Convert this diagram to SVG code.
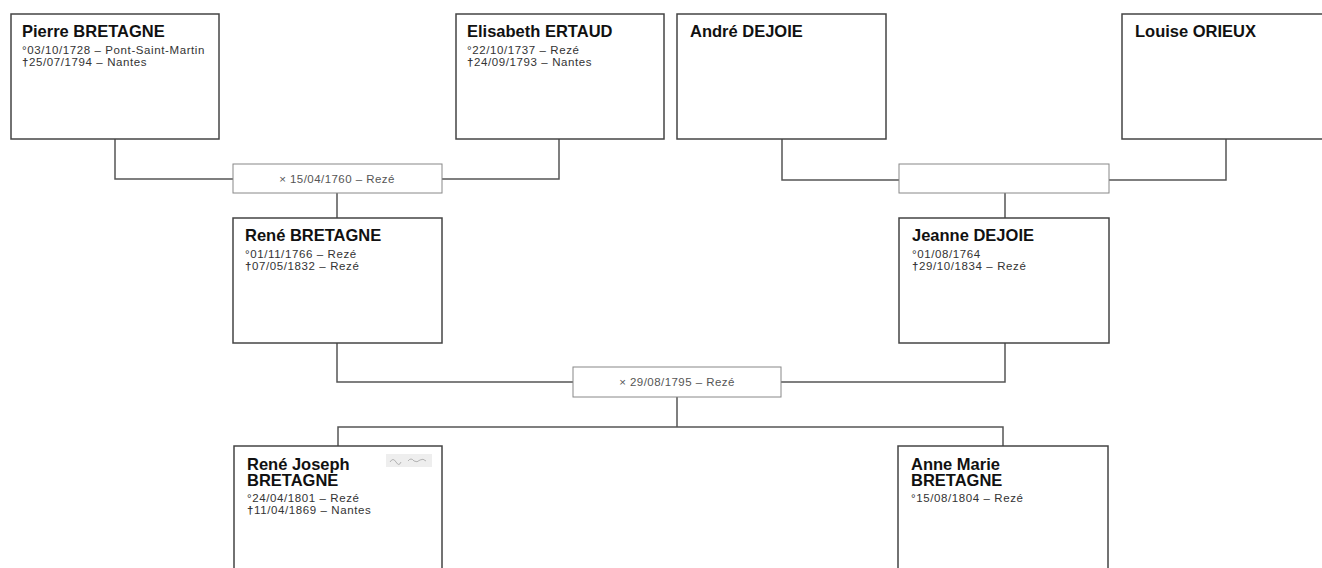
<svg xmlns="http://www.w3.org/2000/svg" width="1322" height="568" viewBox="0 0 1322 568">
<style>
.box{fill:#fff;stroke:#444;stroke-width:1.5}
.mbox{fill:#fff;stroke:#888;stroke-width:1}
.conn{fill:none;stroke:#555;stroke-width:1.5}
.name{font-family:"Liberation Sans",Arial,sans-serif;font-weight:bold;font-size:16.5px;fill:#111}
.det{font-family:"Liberation Sans",Arial,sans-serif;font-size:11.5px;letter-spacing:0.6px;fill:#333}
.dg{font-weight:bold}
.mtxt{font-family:"Liberation Sans",Arial,sans-serif;font-size:11.5px;letter-spacing:0.45px;fill:#555;text-anchor:middle}
</style>
<rect width="1322" height="568" fill="#fff"/>
<g id="connectors">
<polyline class="conn" points="115,139 115,179 233,179"/>
<polyline class="conn" points="559,139 559,179 442,179"/>
<line class="conn" x1="337" y1="193" x2="337" y2="218"/>
<polyline class="conn" points="782,139 782,180 899,180"/>
<polyline class="conn" points="1226,139 1226,180 1109,180"/>
<line class="conn" x1="1005" y1="193" x2="1005" y2="218"/>
<polyline class="conn" points="337,343 337,382 573,382"/>
<polyline class="conn" points="1005,343 1005,382 781,382"/>
<line class="conn" x1="677" y1="397" x2="677" y2="427"/>
<polyline class="conn" points="338,446 338,427 1003,427 1003,446"/>
</g>
<g id="pierre">
<rect class="box" x="11" y="14" width="208" height="125"/>
<text class="name" x="22" y="37">Pierre BRETAGNE</text>
<text class="det" x="22" y="54">°03/10/1728 – Pont-Saint-Martin</text>
<text class="det" x="22" y="65.5"><tspan class="dg">†</tspan>25/07/1794 – Nantes</text>
</g>
<g id="elisabeth">
<rect class="box" x="456" y="14" width="208" height="125"/>
<text class="name" x="467" y="37">Elisabeth ERTAUD</text>
<text class="det" x="467" y="54">°22/10/1737 – Rezé</text>
<text class="det" x="467" y="65.5"><tspan class="dg">†</tspan>24/09/1793 – Nantes</text>
</g>
<g id="andre">
<rect class="box" x="677" y="14" width="209" height="125"/>
<text class="name" x="690" y="37">André DEJOIE</text>
</g>
<g id="louise">
<rect class="box" x="1122" y="14" width="210" height="125"/>
<text class="name" x="1135" y="37">Louise ORIEUX</text>
</g>
<g id="marriage1">
<rect class="mbox" x="233" y="164" width="209" height="29"/>
<text class="mtxt" x="337" y="183">× 15/04/1760 – Rezé</text>
</g>
<g id="marriage2">
<rect class="mbox" x="899" y="164" width="210" height="29"/>
</g>
<g id="rene">
<rect class="box" x="233" y="218" width="209" height="125"/>
<text class="name" x="245" y="241">René BRETAGNE</text>
<text class="det" x="245" y="258">°01/11/1766 – Rezé</text>
<text class="det" x="245" y="269.5"><tspan class="dg">†</tspan>07/05/1832 – Rezé</text>
</g>
<g id="jeanne">
<rect class="box" x="899" y="218" width="210" height="125"/>
<text class="name" x="912" y="241">Jeanne DEJOIE</text>
<text class="det" x="912" y="258">°01/08/1764</text>
<text class="det" x="912" y="269.5"><tspan class="dg">†</tspan>29/10/1834 – Rezé</text>
</g>
<g id="marriage3">
<rect class="mbox" x="573" y="367" width="208" height="30"/>
<text class="mtxt" x="677" y="386">× 29/08/1795 – Rezé</text>
</g>
<g id="rene-joseph">
<rect class="box" x="234" y="446" width="208" height="126"/>
<text class="name" x="247" y="470">René Joseph</text>
<text class="name" x="247" y="486">BRETAGNE</text>
<text class="det" x="247" y="502">°24/04/1801 – Rezé</text>
<text class="det" x="247" y="513.5"><tspan class="dg">†</tspan>11/04/1869 – Nantes</text>
<rect x="386" y="454" width="46" height="13" fill="#eee"/>
<path d="M390 462 q3 -5 6 0 t5 0 M408 461 q3 -4 6 0 q3 2 6 -1 q3 -2 6 1" fill="none" stroke="#999" stroke-width="0.7"/>
</g>
<g id="anne-marie">
<rect class="box" x="898" y="446" width="210" height="126"/>
<text class="name" x="911" y="470">Anne Marie</text>
<text class="name" x="911" y="486">BRETAGNE</text>
<text class="det" x="911" y="502">°15/08/1804 – Rezé</text>
</g>
</svg>
